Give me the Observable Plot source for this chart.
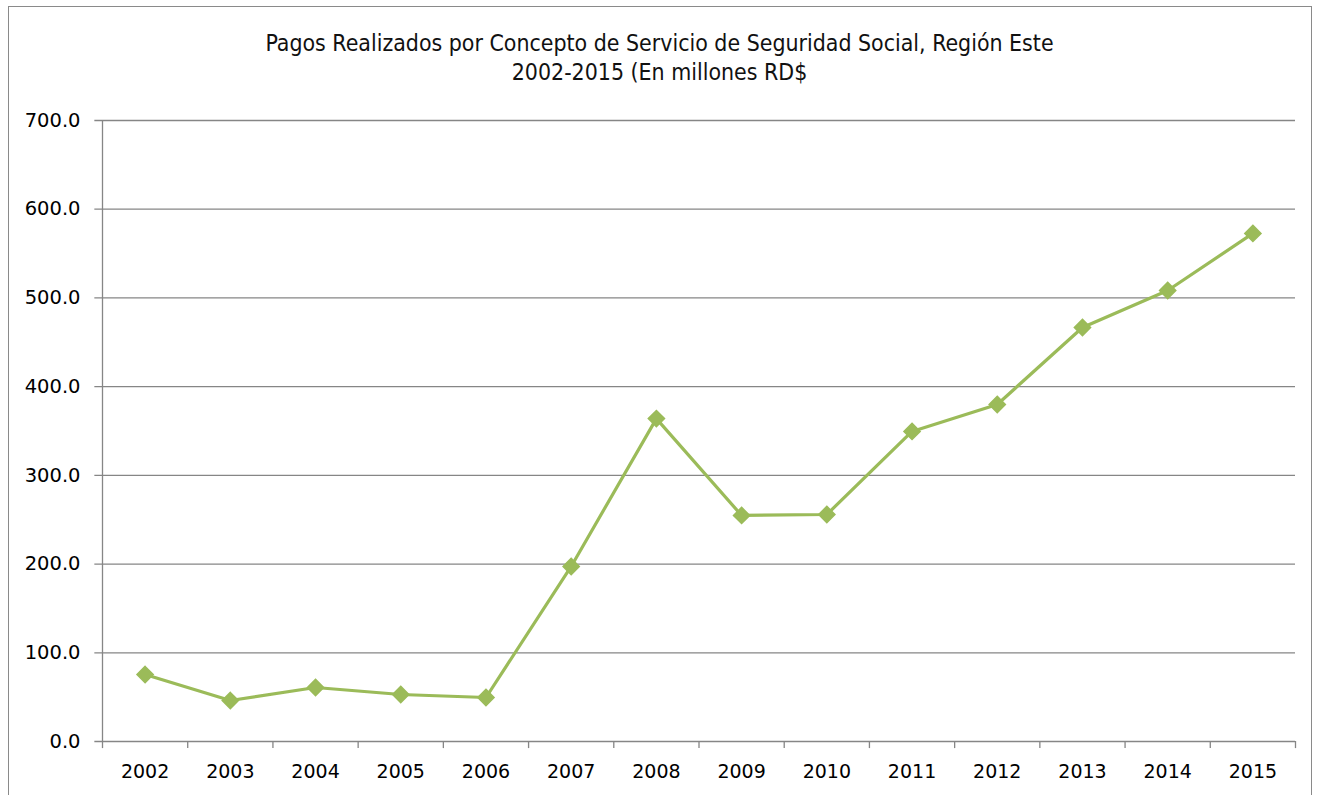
<!DOCTYPE html>
<html><head><meta charset="utf-8">
<script src="https://cdn.jsdelivr.net/npm/d3@7"></script>
<script src="https://cdn.jsdelivr.net/npm/@observablehq/plot@0.6"></script>
<style>
body{margin:0;background:#fff;}
#wrap{position:relative;width:1319px;height:795px;overflow:hidden;background:#fff;}
#frame{position:absolute;left:8px;top:6px;width:1304px;height:800px;border:1.5px solid #8a8a8a;box-sizing:border-box;}
#title{position:absolute;left:0;top:29px;width:1319px;text-align:center;font-family:"DejaVu Sans Condensed",sans-serif;font-size:22.9px;line-height:29px;color:#111;}
#chart{position:absolute;left:0;top:100px;}
</style></head>
<body><div id="wrap"><div id="frame"></div>
<div id="title">Pagos Realizados por Concepto de Servicio de Seguridad Social, Región Este<br>2002-2015 (En millones RD$</div>
<div id="chart"></div></div>
<script>
const years = [2002,2003,2004,2005,2006,2007,2008,2009,2010,2011,2012,2013,2014,2015];
const pagos = [75.5,46.2,60.9,53.0,49.6,197.3,364.0,254.8,255.9,349.5,379.9,466.7,508.4,572.7];
const yTicks = [0,100,200,300,400,500,600,700];

const data = years.map((y,i)=>({year:y, v:pagos[i]}));
const bounds = d3.range(years.length+1).map(i => years[0] - 0.5 + i);

const plot = Plot.plot({
  width:1319, height:695,
  marginTop:20, marginBottom:54, marginLeft:102, marginRight:24,
  style:{fontFamily:"'DejaVu Sans',sans-serif", fontSize:"19px", color:"#000", background:"transparent"},
  x:{domain:[years[0]-0.5, years[years.length-1]+0.5], label:null},
  y:{domain:[0,700], label:null},
  marks:[
    Plot.ruleY(yTicks, {x1:years[0]-0.5-0.09, x2:years[years.length-1]+0.5, stroke:"#868686", strokeWidth:1.3}),
    Plot.ruleX([years[0]-0.5], {y1:0, y2:700, stroke:"#868686", strokeWidth:1.3}),
    Plot.ruleX(bounds, {y1:0, y2:-8, stroke:"#868686", strokeWidth:1.3}),
    Plot.axisY({ticks:yTicks, tickSize:0, tickPadding:22, tickFormat:d=>d.toFixed(1), fontSize:19.5, label:null}),
    Plot.axisX({ticks:years, tickSize:0, tickPadding:23, tickFormat:d=>String(d), fontSize:19, label:null}),
    Plot.line(data, {x:"year", y:"v", stroke:"#9BBB59", strokeWidth:3.2}),
    Plot.dot(data, {x:"year", y:"v", symbol:"diamond2", r:7.3, fill:"#9BBB59", stroke:"#9BBB59"})
  ]
});
plot.style.overflow="visible";
document.getElementById("chart").appendChild(plot);
</script></body></html>
